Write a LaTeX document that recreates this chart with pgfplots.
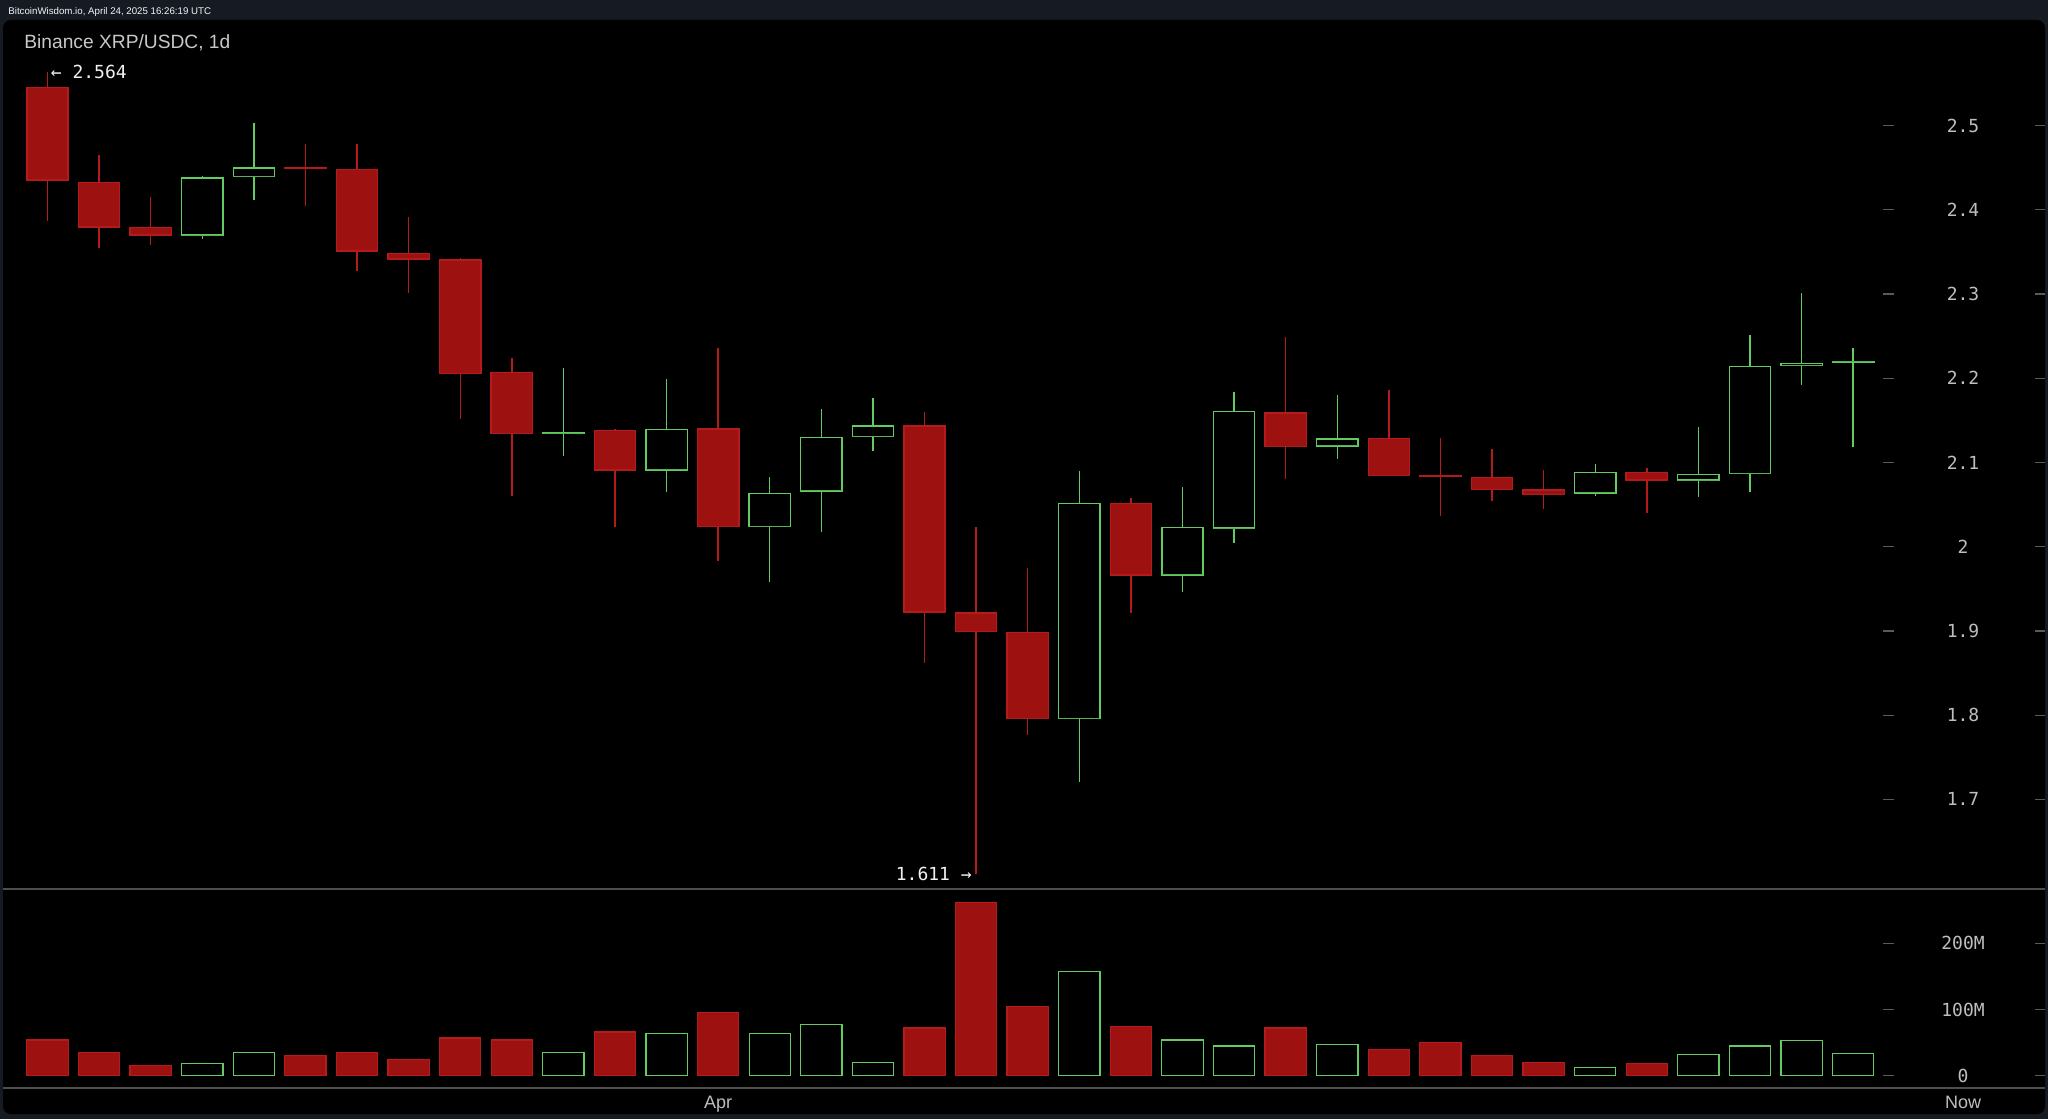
\documentclass[border=0pt]{standalone}
\usepackage{pgfplots}
\pgfplotsset{compat=1.18}
\usepackage{pgfplotstable}
\usepgfplotslibrary{statistics}
\usepackage{fontspec}
\setmainfont{Liberation Sans}
\newfontfamily\mono{DejaVu Sans Mono}
\definecolor{framebg}{RGB}{21,26,35}
\definecolor{candred}{RGB}{158,17,17}
\definecolor{wickred}{RGB}{180,28,28}
\definecolor{candgreen}{RGB}{98,204,98}
\definecolor{labgray}{RGB}{190,190,190}
\definecolor{titlegray}{RGB}{200,200,200}
\definecolor{tickgray}{RGB}{90,90,90}
\definecolor{sepgray}{RGB}{78,78,78}

% candle data: low, lower body edge, upper body edge, high
\pgfplotstableread{
idx low bot top high
0 2.387 2.4355 2.5456 2.564
1 2.355 2.3797 2.4328 2.465
2 2.358 2.3700 2.3790 2.4157
3 2.365 2.3700 2.4380 2.4406
4 2.4118 2.4394 2.4498 2.5036
5 2.4046 2.4490 2.4500 2.478
6 2.328 2.351 2.448 2.478
7 2.301 2.3417 2.3485 2.391
8 2.1517 2.206 2.3405 2.3425
9 2.0602 2.1347 2.2067 2.2237
10 2.1077 2.1350 2.1358 2.2126
11 2.0238 2.0911 2.1378 2.1394
12 2.0653 2.0911 2.1394 2.1992
13 1.9834 2.0238 2.1398 2.2363
14 1.9584 2.0238 2.0630 2.0824
15 2.0178 2.0662 2.1300 2.1632
16 2.1137 2.1311 2.1433 2.1762
17 1.8622 1.9224 2.1433 2.1596
18 1.611 1.8990 1.9212 2.0230
19 1.7764 1.7957 1.8983 1.9747
20 1.7209 1.7962 2.0511 2.0899
21 1.9216 1.9664 2.0515 2.0575
22 1.9466 1.9664 2.0226 2.0709
23 2.0044 2.0222 2.1603 2.1834
24 2.0808 2.1192 2.1588 2.2487
25 2.1038 2.1196 2.1280 2.1800
26 2.0845 2.0848 2.1283 2.1861
27 2.0365 2.0832 2.0840 2.1287
28 2.0546 2.0682 2.0824 2.1157
29 2.0444 2.0618 2.0673 2.0911
30 2.0602 2.0638 2.0879 2.0979
31 2.0404 2.0792 2.0879 2.0931
32 2.0594 2.0792 2.0860 2.1425
33 2.0653 2.0872 2.2142 2.2511
34 2.1920 2.2155 2.2178 2.3010
35 2.1188 2.2195 2.2200 2.2356
}\candles

\pgfplotsset{
  redcandle/.style={draw=wickred, fill=candred, line width=0.7pt},
  greencandle/.style={draw=candgreen, fill=black, line width=0.7pt},
  boxplot/draw direction=y,
  boxplot/every median/.style={draw=none},
}
\newcommand\candle[2]{%
  \pgfplotstablegetelem{#1}{low}\of\candles \let\cl\pgfplotsretval
  \pgfplotstablegetelem{#1}{bot}\of\candles \let\cb\pgfplotsretval
  \pgfplotstablegetelem{#1}{top}\of\candles \let\ct\pgfplotsretval
  \pgfplotstablegetelem{#1}{high}\of\candles \let\ch\pgfplotsretval
  \edef\tmp{\noexpand\addplot[#2, boxplot prepared={draw direction=y, draw position=#1,
      lower whisker=\cl, lower quartile=\cb, median=\cb,
      upper quartile=\ct, upper whisker=\ch,
      box extend=0.8, whisker extend=0}] coordinates {};}%
  \tmp
}

\begin{document}
\begin{tikzpicture}
\path[use as bounding box] (0,0) rectangle (1024pt,559.5pt);
\fill[framebg] (0,0) rectangle (1024pt,559.5pt);
\fill[black, rounded corners=4pt] (1.5pt,2.5pt) rectangle (1022.5pt,549.5pt);
\node[anchor=base west, inner sep=0, font=\fontsize{4.85pt}{6pt}\selectfont, text=white!92!gray] at (4pt,552pt) {BitcoinWisdom.io, April 24, 2025 16:26:19 UTC};
\node[anchor=base west, inner sep=0, font=\fontsize{9.6pt}{11pt}\selectfont, text=titlegray] at (12pt,535.35pt) {Binance XRP/USDC, 1d};
\draw[sepgray, line width=1pt] (1.5pt,115pt) -- (1022.5pt,115pt);
\draw[sepgray, line width=1pt] (1.5pt,15.5pt) -- (1022.5pt,15.5pt);

\begin{axis}[
  at={(1.5pt,115pt)}, anchor=south west, scale only axis,
  width=1021pt, height=434.5pt,
  xmin=-0.8626, xmax=38.719, ymin=1.5935, ymax=2.6255,
  axis line style={draw=none},
  xtick=\empty,
  ytick={1.7,1.8,1.9,2,2.1,2.2,2.3,2.4,2.5},
  yticklabels={1.7,1.8,1.9,2,2.1,2.2,2.3,2.4,2.5},
  ytick pos=right, yticklabel pos=right,
  tick align=inside, major tick length=5pt,
  tick style={tickgray, line width=0.6pt},
  yticklabel style={anchor=center, xshift=-41pt, font=\fontsize{9pt}{10pt}\mono, text=labgray},
]
\pgfplotsinvokeforeach{0,1,2,5,6,7,8,9,11,13,17,18,19,21,24,26,27,28,29,31}{
  \candle{#1}{redcandle}
}
\pgfplotsinvokeforeach{3,4,10,12,14,15,16,20,22,23,25,30,32,33,34,35}{
  \candle{#1}{greencandle}
}
\pgfplotsinvokeforeach{1.7,1.8,1.9,2,2.1,2.2,2.3,2.4,2.5}{
  \draw[tickgray, line width=0.6pt] (axis cs:35.58,#1) -- (axis cs:35.79,#1);
}
\node[anchor=west, inner sep=0, xshift=1.5pt, font=\fontsize{9pt}{10pt}\mono, text=white!88!gray] at (axis cs:0,2.564) {← 2.564};
\node[anchor=east, inner sep=0, xshift=-2pt, font=\fontsize{9pt}{10pt}\mono, text=white!88!gray] at (axis cs:18,1.611) {1.611 →};
\end{axis}

\begin{axis}[
  at={(1.5pt,15.5pt)}, anchor=south west, scale only axis,
  width=1021pt, height=99.5pt,
  xmin=-0.8626, xmax=38.719, ymin=-18.58, ymax=282.0,
  axis line style={draw=none},
  xtick={13}, xticklabels={Apr},
  extra x ticks={37.13}, extra x tick labels={Now},
  xtick style={draw=none},
  extra x tick style={xtick style={draw=none}},
  xticklabel style={anchor=base, yshift=-10.25pt, font=\fontsize{9pt}{10pt}\selectfont, text=labgray},
  ytick={0,100,200}, yticklabels={0,100M,200M},
  ytick pos=right, yticklabel pos=right,
  tick align=inside, major tick length=5pt,
  ytick style={tickgray, line width=0.6pt},
  yticklabel style={anchor=center, xshift=-41pt, font=\fontsize{9pt}{10pt}\mono, text=labgray},
]
\addplot[ybar, bar width=0.8, bar shift=0, draw=wickred, fill=candred, line width=0.6pt]
  coordinates {(0,54) (1,35) (2,15) (5,30) (6,35) (7,25) (8,57) (9,54) (11,66) (13,96) (17,72) (18,262) (19,104) (21,74) (24,72) (26,40) (27,50) (28,30) (29,20) (31,18)};
\addplot[ybar, bar width=0.8, bar shift=0, draw=candgreen, fill=black, line width=0.6pt]
  coordinates {(3,18) (4,35) (10,35) (12,64) (14,64) (15,77) (16,20) (20,157) (22,54) (23,45) (25,47) (30,12) (32,32) (33,45) (34,53) (35,34)};
\pgfplotsinvokeforeach{0,100,200}{
  \draw[tickgray, line width=0.6pt] (axis cs:35.58,#1) -- (axis cs:35.79,#1);
}
\draw[tickgray, line width=0.6pt] (axis cs:13,-18.58) -- ([yshift=-2pt]axis cs:13,-18.58);
\end{axis}
\end{tikzpicture}
\end{document}
